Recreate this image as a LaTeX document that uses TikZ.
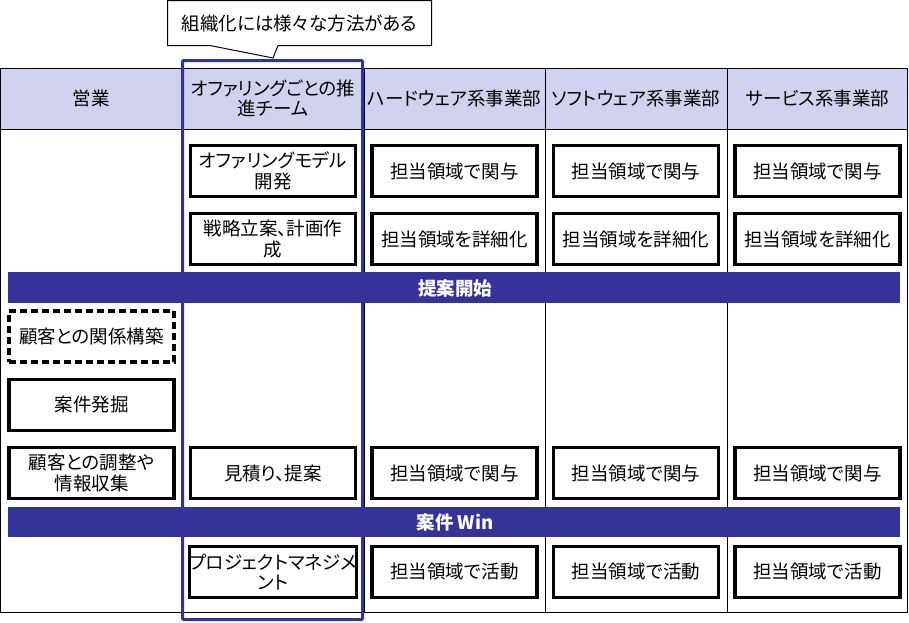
\documentclass[tikz,border=0pt]{standalone}
\usepackage{fontspec}
\setmainfont{Noto Sans CJK JP}[RawFeature=+palt]
\definecolor{navy}{RGB}{51,51,153}
\definecolor{headfill}{RGB}{208,210,240}
\begin{document}
\begin{tikzpicture}[x=1pt,y=-1pt,
  every node/.style={font=\fontsize{18.5}{20.5}\selectfont, inner sep=0pt, align=center},
  boxs/.style={draw=black, line width=3.2pt, fill=white, minimum width=165pt, minimum height=51pt},
  dboxs/.style={boxs, dash pattern=on 7pt off 4pt},
  bandtext/.style={text=white, font=\fontsize{18.5}{21}\selectfont\bfseries},
  gridline/.style={draw=black, line width=1pt}
]
\useasboundingbox (0,0) rectangle (909,622);
% table
\fill[headfill] (0,68) rectangle (908,129);
\draw[gridline] (0.5,68.5) rectangle (907.5,612.5);
\draw[gridline] (0.5,129) -- (907.5,129);
\foreach \xx in {182,364,545,727} \draw[gridline] (\xx,68.5) -- (\xx,612.5);
% headers
\node (h1) at (91,98.5) {営業};
\node (h2) at (273,98.5) {オファリングごとの推\\進チーム};
\node (h3) at (454.5,98.5) {ハードウェア系事業部};
\node (h4) at (636,98.5) {ソフトウェア系事業部};
\node (h5) at (817.5,98.5) {サービス系事業部};
% bands
\fill[navy] (8,272) rectangle (900,303);
\fill[navy] (8,507) rectangle (900,537);
\node[bandtext] (b1) at (455,288) {提案開始};
\node[bandtext] (b2) at (455,522) {案件 Win};
% boxes
\node[boxs] (o1) at (273,171) {オファリングモデル\\開発};
\node[boxs] (o2) at (273,239) {戦略立案、計画作\\成};
\node[boxs] (hw1) at (454.5,171) {担当領域で関与};
\node[boxs] (hw2) at (454.5,239) {担当領域を詳細化};
\node[boxs] (sw1) at (636,171) {担当領域で関与};
\node[boxs] (sw2) at (636,239) {担当領域を詳細化};
\node[boxs] (sv1) at (817.5,171) {担当領域で関与};
\node[boxs] (sv2) at (817.5,239) {担当領域を詳細化};
\node[dboxs] (s1) at (91.5,336.5) {顧客との関係構築};
\node[boxs] (s2) at (91.5,405) {案件発掘};
\node[boxs] (s3) at (91.5,473) {顧客との調整や\\情報収集};
\node[boxs] (o3) at (273,473) {見積り、提案};
\node[boxs] (hw3) at (454.5,473) {担当領域で関与};
\node[boxs] (sw3) at (636,473) {担当領域で関与};
\node[boxs] (sv3) at (817.5,473) {担当領域で関与};
\node[boxs] (o4) at (273,572) {プロジェクトマネジメ\\ント};
\node[boxs] (hw4) at (454.5,572) {担当領域で活動};
\node[boxs] (sw4) at (636,572) {担当領域で活動};
\node[boxs] (sv4) at (817.5,572) {担当領域で活動};
% highlight frame
\draw[navy, line width=3pt, rounded corners=1pt] (182.5,60.5) rectangle (362.5,619.5);
% callout
\draw[black, line width=1pt, fill=white] (167.5,0.5) -- (431.5,0.5) -- (431.5,45.5) -- (278,45.5) -- (273,58) -- (210,45.5) -- (167.5,45.5) -- cycle;
\node[font=\fontsize{18.5}{21}\selectfont] (call) at (299.5,23) {組織化には様々な方法がある};
\end{tikzpicture}
\end{document}
